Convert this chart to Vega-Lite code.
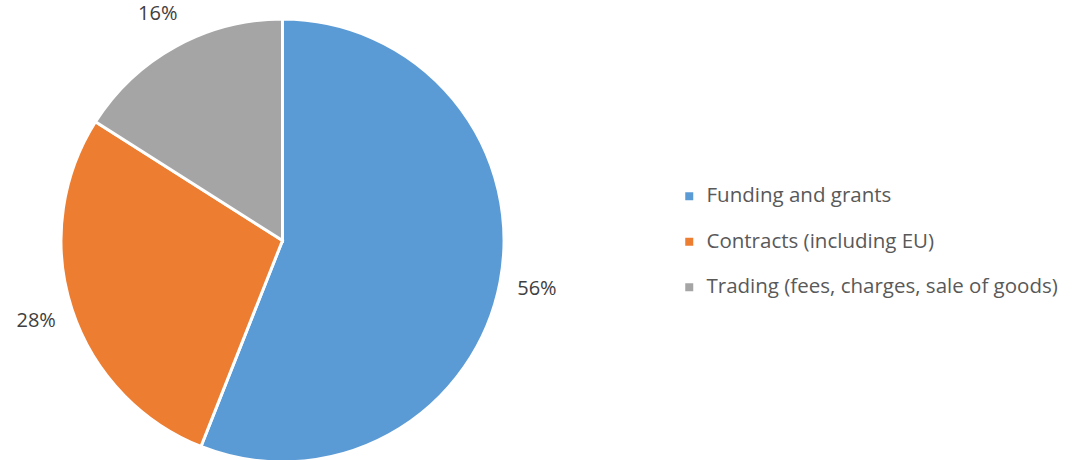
{
  "$schema": "https://vega.github.io/schema/vega-lite/v6.json",
  "width": 443,
  "height": 443,
  "autosize": "none",
  "padding": {"left": 61, "top": 19, "right": 573, "bottom": 0},
  "background": "white",
  "view": {"stroke": null},
  "config": {"font": "Open Sans"},
  "data": {
    "values": [
      {"category": "Funding and grants", "share": 0.56, "idx": 1},
      {"category": "Contracts (including EU)", "share": 0.28, "idx": 2},
      {"category": "Trading (fees, charges, sale of goods)", "share": 0.16, "idx": 3}
    ]
  },
  "encoding": {
    "theta": {"field": "share", "type": "quantitative", "stack": true},
    "order": {"field": "idx", "type": "quantitative"}
  },
  "layer": [
    {
      "mark": {"type": "arc", "stroke": "white", "strokeWidth": 3},
      "encoding": {
        "color": {
          "field": "category",
          "type": "nominal",
          "scale": {
            "domain": ["Funding and grants", "Contracts (including EU)", "Trading (fees, charges, sale of goods)"],
            "range": ["#5B9BD5", "#ED7D31", "#A5A5A5"]
          },
          "legend": {
            "title": null,
            "orient": "none",
            "legendX": 618,
            "legendY": 167,
            "symbolType": "square",
            "symbolSize": 64,
            "symbolStrokeWidth": 0,
            "labelFont": "Open Sans",
            "labelFontSize": 20.5,
            "labelColor": "#595959",
            "labelLimit": 500,
            "labelOffset": 7,
            "rowPadding": 24.5
          }
        }
      }
    },
    {
      "mark": {"type": "text", "radius": 259, "fontSize": 20, "color": "#404040", "font": "Open Sans"},
      "encoding": {
        "text": {"field": "share", "type": "quantitative", "format": ".0%"}
      }
    }
  ]
}
